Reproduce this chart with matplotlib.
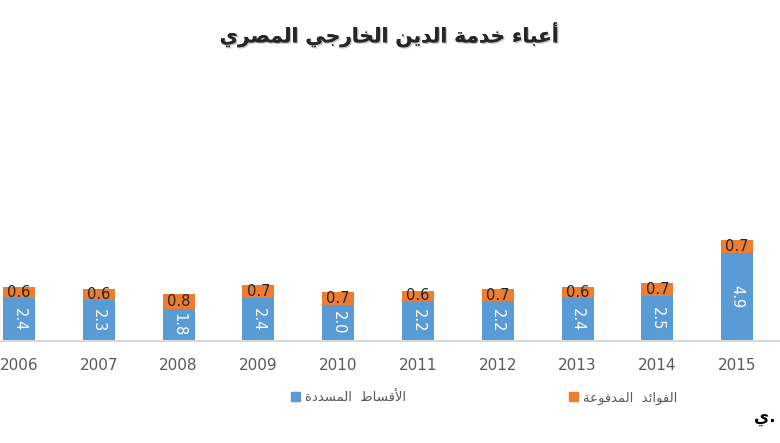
import matplotlib
matplotlib.use("Agg")
import matplotlib.pyplot as plt
from matplotlib.patches import Patch
import matplotlib.patheffects as pe

# ---- data ----
years = ["2006", "2007", "2008", "2009", "2010", "2011", "2012", "2013", "2014", "2015"]
installments = [2.4, 2.3, 1.8, 2.4, 2.0, 2.2, 2.2, 2.4, 2.5, 4.9]   # الأقساط المسددة
interest = [0.6, 0.6, 0.8, 0.7, 0.7, 0.6, 0.7, 0.6, 0.7, 0.7]       # الفوائد المدفوعة
title_text = "أعباء خدمة الدين الخارجي المصري"
label_installments = "الأقساط  المسددة"
label_interest = "الفوائد  المدفوعة"

# ---- minimal Arabic shaping (presentation forms, visual order) ----
DUAL = {'\u0626': 0xFE89, '\u0628': 0xFE8F, '\u062C': 0xFE9D, '\u062E': 0xFEA5,
        '\u0633': 0xFEB1, '\u0635': 0xFEB9, '\u0637': 0xFEC1, '\u0639': 0xFEC9,
        '\u0641': 0xFED1, '\u0642': 0xFED5, '\u0644': 0xFEDD, '\u0645': 0xFEE1,
        '\u0646': 0xFEE5, '\u064A': 0xFEF1, '\u062A': 0xFE95, '\u0647': 0xFEE9}
RIGHT = {'\u0623': 0xFE83, '\u0627': 0xFE8D, '\u0629': 0xFE93, '\u062F': 0xFEA9,
         '\u0631': 0xFEAD, '\u0648': 0xFEED, '\u0630': 0xFEAB, '\u0632': 0xFEAF,
         '\uFEF7': 0xFEF7, '\uFEFB': 0xFEFB}
NONJ = {'\u0621': 0xFE80}


def shape(s):
    s = s.replace('\u0644\u0623', '\uFEF7').replace('\u0644\u0627', '\uFEFB')
    out = []
    for i, c in enumerate(s):
        prev = s[i - 1] if i > 0 else ''
        nxt = s[i + 1] if i + 1 < len(s) else ''
        jp = prev in DUAL
        jn = nxt in DUAL or nxt in RIGHT
        if c in DUAL:
            b = DUAL[c]
            if jp and jn:
                out.append(chr(b + 3))
            elif jp:
                out.append(chr(b + 1))
            elif jn:
                out.append(chr(b + 2))
            else:
                out.append(chr(b))
        elif c in RIGHT:
            b = RIGHT[c]
            out.append(chr(b + 1) if jp else chr(b))
        elif c in NONJ:
            out.append(chr(NONJ[c]))
        else:
            out.append(c)
    return ''.join(reversed(out))


plt.rcParams['font.family'] = ['DejaVu Sans']

W, H = 780, 443
fig = plt.figure(figsize=(W / 100, H / 100), dpi=100)

base_px = 341
top_px = 70
ax = fig.add_axes([0, (H - base_px) / H, 1, (base_px - top_px) / H])

x = list(range(len(years)))
blue = '#5B9BD5'
orange = '#ED7D31'
width = 0.40
b1 = ax.bar(x, installments, width=width, color=blue)
b2 = ax.bar(x, interest, width=width, bottom=installments, color=orange)

px_per_unit = 18.0
ax.set_ylim(0, (base_px - top_px) / px_per_unit)
spacing = 79.8
ax.set_xlim(-19 / spacing, (W - 19) / spacing)

for xi, v, o in zip(x, installments, interest):
    ax.text(xi, v / 2, f"{v:.1f}", rotation=-90, ha='center', va='center',
            color='white', fontsize=10.5)
    ax.text(xi, v + o / 2, f"{o:.1f}", ha='center', va='center',
            color='#262626', fontsize=10.5)

for s in ['top', 'right', 'left']:
    ax.spines[s].set_visible(False)
ax.spines['bottom'].set_color('#D9D9D9')
ax.spines['bottom'].set_linewidth(1.5)
ax.set_yticks([])
ax.set_xticks(x)
ax.set_xticklabels(years, fontsize=11, color='#595959')
ax.tick_params(axis='x', length=0, pad=12)

fig.text(0.5, 1 - 35 / H, shape(title_text), ha='center', va='center',
         fontsize=14.5, fontweight='bold', color='#262626',
         path_effects=[pe.withSimplePatchShadow(offset=(1, -1), alpha=0.25), pe.Normal()])

handles = [Patch(color=blue, label=shape(label_installments)),
           Patch(color=orange, label=shape(label_interest))]
fig.legend(handles=handles, loc='center', bbox_to_anchor=(484 / W, 1 - 398 / H),
           ncol=2, frameon=False, fontsize=9.5, labelcolor='#595959',
           handlelength=0.7, handleheight=0.7, handletextpad=0.4,
           columnspacing=12.3)

fig.text(765 / W, 1 - 418 / H, shape("ي") + ".", ha='center', va='center',
         fontsize=12, fontweight='bold', color='black')

fig.savefig('out.png', dpi=100)
